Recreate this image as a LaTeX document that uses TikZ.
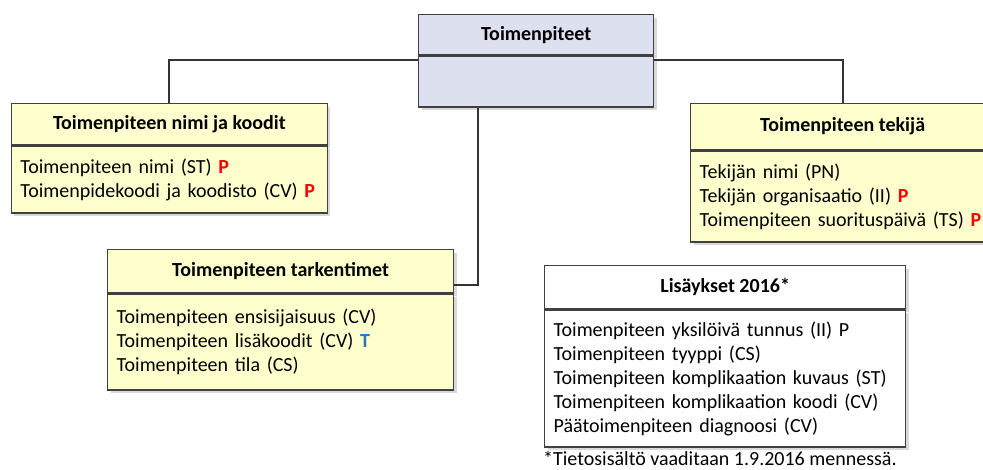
\documentclass[tikz,border=0pt]{standalone}
\usepackage{fontspec}
\setmainfont{Carlito}
\usepackage{tikz}
\usetikzlibrary{positioning,shadows}

\definecolor{boxyellow}{RGB}{255,255,206}
\definecolor{boxblue}{RGB}{220,224,239}
\definecolor{tblue}{RGB}{46,117,182}
\newcommand{\pmark}{\textcolor{red}{\textbf{P}}}
\newcommand{\tmark}{\textcolor{tblue}{\textbf{T}}}

\begin{document}
\begin{tikzpicture}[x=1pt,y=-1pt,
every node/.style={font=\fontsize{20}{24}\selectfont},
box/.style={draw=black!75,line width=1.3pt,
drop shadow={shadow xshift=3pt,shadow yshift=-3pt,fill=black!15,opacity=1}},
head/.style={box,anchor=north west,inner sep=0pt,
font=\fontsize{20}{24}\selectfont\bfseries},
body/.style={box,text width=#1,inner xsep=9pt,inner ysep=0pt,align=left},
conn/.style={draw=black!80,line width=2pt}]
\clip (0,0) rectangle (983,470);
\node[head,fill=boxblue,minimum width=235pt,minimum height=40pt] (tphead) at (418,14) {Toimenpiteet};
\node[body=217pt,fill=boxblue,minimum height=51pt,below=0pt of tphead] (tpbody) {};

\node[head,fill=boxyellow,minimum width=316pt,minimum height=41pt] (nimihead) at (10.7,103) {Toimenpiteen nimi ja koodit};
\node[body=298pt,fill=boxyellow,minimum height=67pt,below=0pt of nimihead] (nimibody)
{Toimenpiteen nimi (ST) \pmark\\
Toimenpidekoodi ja koodisto (CV) \pmark};

\node[head,fill=boxyellow,minimum width=304pt,minimum height=46pt] (tekijahead) at (690,103) {Toimenpiteen tekijä};
\node[body=286pt,fill=boxyellow,minimum height=91pt,below=0pt of tekijahead] (tekijabody)
{Tekijän nimi (PN)\\
Tekijän organisaatio (II) \pmark\\
Toimenpiteen suorituspäivä (TS) \pmark};

\node[head,fill=boxyellow,minimum width=346pt,minimum height=43pt] (tarkhead) at (107,249) {Toimenpiteen tarkentimet};
\node[body=328pt,fill=boxyellow,minimum height=96pt,below=0pt of tarkhead] (tarkbody)
{Toimenpiteen ensisijaisuus (CV)\\
Toimenpiteen lisäkoodit (CV) \tmark\\
Toimenpiteen tila (CS)};

\node[head,fill=white,minimum width=361pt,minimum height=43pt] (lishead) at (544,265) {Lisäykset 2016*};
\node[body=343pt,fill=white,minimum height=137pt,below=0pt of lishead] (lisbody)
{Toimenpiteen yksilöivä tunnus (II) P\\
Toimenpiteen tyyppi (CS)\\
Toimenpiteen komplikaation kuvaus (ST)\\
Toimenpiteen komplikaation koodi (CV)\\
Päätoimenpiteen diagnoosi (CV)};

\node[anchor=west,inner sep=0pt] (note) at (543,458) {*Tietosisältö vaaditaan 1.9.2016 mennessä.};

\draw[conn] ([yshift=-5pt]tpbody.north west) -| (nimihead.north);
\draw[conn] ([yshift=-5pt]tpbody.north east) -| (tekijahead.north);
\draw[conn] ([xshift=-58.5pt]tpbody.south) |- ([yshift=-13.5pt]tarkhead.east);
\end{tikzpicture}
\end{document}
